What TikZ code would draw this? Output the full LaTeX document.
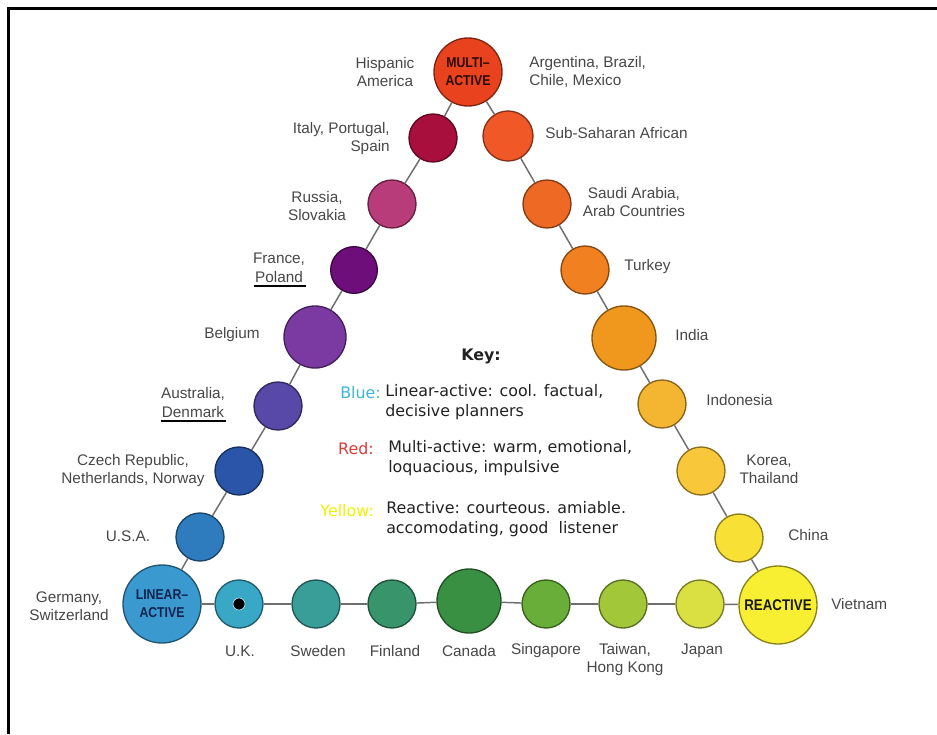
\documentclass[tikz,border=0pt]{standalone}
\usepackage{fontspec}
\setmainfont{Liberation Sans}
\newfontfamily\keyfont{DejaVu Sans}
\newfontfamily\condfont[FakeStretch=0.86]{Liberation Sans}
\definecolor{txtgray}{HTML}{474747}
\definecolor{linegray}{HTML}{6E6E6E}
\definecolor{cMulti}{HTML}{E8421E}
\definecolor{cItaly}{HTML}{A80F3C}
\definecolor{cRussia}{HTML}{B83C7A}
\definecolor{cFrance}{HTML}{6E0E7A}
\definecolor{cBelgium}{HTML}{7A3AA2}
\definecolor{cAustralia}{HTML}{5848A8}
\definecolor{cCzech}{HTML}{2A55A8}
\definecolor{cUSA}{HTML}{2E7CBE}
\definecolor{cLinear}{HTML}{3A9AD0}
\definecolor{cUK}{HTML}{38A8C6}
\definecolor{cSweden}{HTML}{3A9E98}
\definecolor{cFinland}{HTML}{38946A}
\definecolor{cCanada}{HTML}{3A9042}
\definecolor{cSingapore}{HTML}{6AAE3A}
\definecolor{cTaiwan}{HTML}{A2C83A}
\definecolor{cJapan}{HTML}{DAE042}
\definecolor{cReactive}{HTML}{F8EE32}
\definecolor{cChina}{HTML}{F8E034}
\definecolor{cKorea}{HTML}{F8C83A}
\definecolor{cIndonesia}{HTML}{F4B630}
\definecolor{cIndia}{HTML}{F0981E}
\definecolor{cTurkey}{HTML}{F08020}
\definecolor{cSaudi}{HTML}{EE6A24}
\definecolor{cSubs}{HTML}{F05828}
\definecolor{multitext}{HTML}{2A0C06}
\definecolor{lineartext}{HTML}{13234E}
\definecolor{keyblue}{HTML}{3DB4D8}
\definecolor{keyred}{HTML}{E03A3A}
\definecolor{keyyellow}{HTML}{F2F000}
\definecolor{keytext}{HTML}{222222}
\begin{document}
\begin{tikzpicture}[x=0.75pt,y=-0.75pt,
  ball/.style={circle, fill=#1, draw=#1!55!black, line width=1pt, inner sep=0pt, align=center},
  conn/.style={draw=linegray, line width=1.1pt},
  lbl/.style={font=\fontsize{11.5}{13.5}\selectfont, text=txtgray, inner sep=0pt, align=center},
  typelbl/.style={font=\condfont\bfseries\fontsize{10.7}{13.5}\selectfont},
  keylab/.style={font=\keyfont\fontsize{11.9}{14.5}\selectfont, inner sep=0pt, anchor=east},
  keytxt/.style={font=\keyfont\fontsize{11.9}{14.5}\selectfont, text=keytext, inner sep=0pt, anchor=west, align=left},
  uline/.style={line width=1.8pt, black}]
\useasboundingbox (0,0) rectangle (937,734);
% frame
\draw[line width=1.9pt, black] (937,8.5) -- (8.5,8.5) -- (8.5,734);

% circles
\node[ball=cMulti, minimum size=51pt, typelbl, text=multitext] (multi) at (468,72) {MULTI–\\ACTIVE};
\node[ball=cItaly, minimum size=36pt] (italy) at (433,138) {};
\node[ball=cSubs, minimum size=37.5pt] (subs) at (508,136) {};
\node[ball=cRussia, minimum size=36pt] (russia) at (392,204) {};
\node[ball=cSaudi, minimum size=36pt] (saudi) at (547,204) {};
\node[ball=cFrance, minimum size=35pt] (france) at (354,270) {};
\node[ball=cTurkey, minimum size=36pt] (turkey) at (585,270) {};
\node[ball=cBelgium, minimum size=46.5pt] (belgium) at (315,337) {};
\node[ball=cIndia, minimum size=48pt] (india) at (624,338) {};
\node[ball=cAustralia, minimum size=36pt] (australia) at (278,406) {};
\node[ball=cIndonesia, minimum size=36pt] (indonesia) at (662,404) {};
\node[ball=cCzech, minimum size=36pt] (czech) at (239,471) {};
\node[ball=cKorea, minimum size=36pt] (korea) at (701,471) {};
\node[ball=cUSA, minimum size=36pt] (usa) at (200,537) {};
\node[ball=cChina, minimum size=36pt] (china) at (739,538) {};
\node[ball=cLinear, minimum size=58.5pt, typelbl, text=lineartext] (linear) at (162,604) {LINEAR–\\ACTIVE};
\node[ball=cReactive, minimum size=58.5pt, typelbl, font=\condfont\bfseries\fontsize{11.6}{13.5}\selectfont, text=black!90] (reactive) at (778,605) {REACTIVE};
\node[ball=cUK, minimum size=36pt] (uk) at (239,604) {};
\node[circle, fill=black, draw=white!75!cyan, line width=0.5pt, minimum size=9pt, inner sep=0pt] (ukdot) at (uk) {};
\node[ball=cSweden, minimum size=36pt] (sweden) at (316,604) {};
\node[ball=cFinland, minimum size=36pt] (finland) at (392,604) {};
\node[ball=cCanada, minimum size=48pt] (canada) at (469,601) {};
\node[ball=cSingapore, minimum size=36pt] (singapore) at (546,604) {};
\node[ball=cTaiwan, minimum size=36pt] (taiwan) at (623,604) {};
\node[ball=cJapan, minimum size=36pt] (japan) at (700,604) {};

% connectors
\foreach \a/\b in {multi/italy, italy/russia, russia/france, france/belgium, belgium/australia, australia/czech, czech/usa, usa/linear,
  multi/subs, subs/saudi, saudi/turkey, turkey/india, india/indonesia, indonesia/korea, korea/china, china/reactive,
  linear/uk, uk/sweden, sweden/finland, finland/canada, canada/singapore, singapore/taiwan, taiwan/japan, japan/reactive}
  \draw[conn] (\a) -- (\b);

% country labels
\node[lbl] (lhisp) at (385,72) {Hispanic\\America};
\node[lbl, anchor=west, align=left] (larg) at (529,72) {Argentina, Brazil,\\Chile, Mexico};
\node[lbl, anchor=east, align=right] (lital) at (390,139) {Italy, Portugal,\\Spain};
\node[lbl, anchor=west] (lsubs) at (545,133) {Sub-Saharan African};
\node[lbl] (lrus) at (317,206) {Russia,\\Slovakia};
\node[lbl] (lsaudi) at (634,202) {Saudi Arabia,\\Arab Countries};
\node[lbl] (lfrance) at (279,259) {France,};
\node[lbl] (lpoland) at (279,277) {Poland};
\node[lbl, anchor=west] (lturkey) at (624,267) {Turkey};
\node[lbl] (lbelg) at (232,335) {Belgium};
\node[lbl, anchor=west] (lindia) at (675,335) {India};
\node[lbl] (laus) at (193,394) {Australia,};
\node[lbl] (lden) at (193,412) {Denmark};
\node[lbl, anchor=west] (lindo) at (706,400) {Indonesia};
\node[lbl] (lczech) at (133,471) {Czech Republic,\\Netherlands, Norway};
\node[lbl] (lkorea) at (769,469) {Korea,\\Thailand};
\node[lbl] (lusa) at (128,536) {U.S.A.};
\node[lbl, anchor=west] (lchina) at (788,535) {China};
\node[lbl] (lger) at (69,606) {Germany,\\Switzerland};
\node[lbl, anchor=west] (lviet) at (831,604) {Vietnam};
\node[lbl] (luk) at (240,651) {U.K.};
\node[lbl] (lswe) at (318,651) {Sweden};
\node[lbl] (lfin) at (395,651) {Finland};
\node[lbl] (lcan) at (469,651) {Canada};
\node[lbl] (lsing) at (546,651) {Singapore};
\node[lbl] (ltai) at (625,660) {Taiwan,\\Hong Kong};
\node[lbl] (ljap) at (702,651) {Japan};

% underlines
\draw[uline] ([yshift=-2.2pt]lpoland.south west) ++(-1,0) -- ([yshift=-2.2pt,xshift=2pt]lpoland.south east);
\draw[uline] ([yshift=-2.2pt]lden.south west) ++(-1,0) -- ([yshift=-2.2pt,xshift=1pt]lden.south east);

% key
\node[font=\keyfont\bfseries\fontsize{11.9}{14.5}\selectfont, text=keytext, inner sep=0pt] (key) at (481,356) {Key:};
\node[keylab, text=keyblue] (kblue) at (381,393) {Blue:};
\node[keytxt] (kbluet) at (385,402) {Linear-active: cool. factual,\\decisive planners};
\node[keylab, text=keyred] (kred) at (374,449) {Red:};
\node[keytxt] (kredt) at (388,458) {Multi-active: warm, emotional,\\loquacious, impulsive};
\node[keylab, text=keyyellow] (kyel) at (374,511) {Yellow:};
\node[keytxt] (kyelt) at (386,519) {Reactive: courteous. amiable.\\accomodating, good\ \ listener};
\end{tikzpicture}
\end{document}
